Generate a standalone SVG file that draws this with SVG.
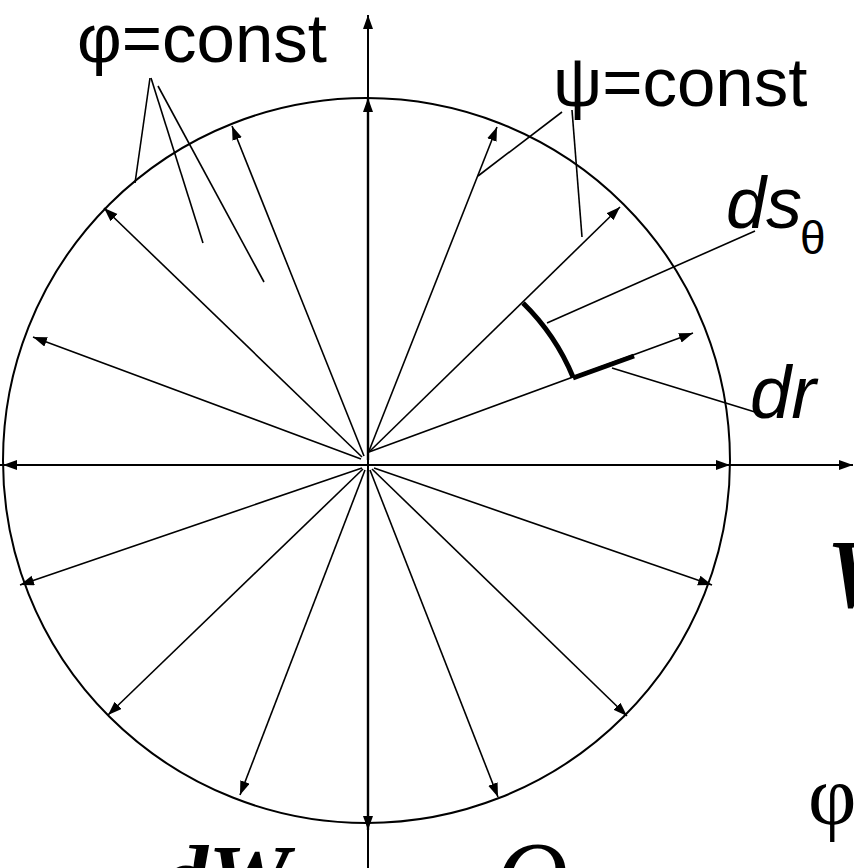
<svg xmlns="http://www.w3.org/2000/svg" width="854" height="868" viewBox="0 0 854 868">
<style>
.ln{stroke:#000;stroke-width:1.6;fill:none}
.ax{stroke:#000;stroke-width:2;fill:none}
.ar{stroke:#000;stroke-width:1.6;fill:none;marker-end:url(#ah)}
.thk{stroke:#000;stroke-width:5;fill:none}
.sans{font-family:"Liberation Sans",Arial,sans-serif;fill:#000}
.serif{font-family:"Liberation Serif","Times New Roman",serif;fill:#000}
</style>
<defs>
<marker id="ah" markerUnits="userSpaceOnUse" markerWidth="16" markerHeight="11" refX="14" refY="5" orient="auto">
<path d="M0,0 L14,5 L0,10 z" fill="#000"/>
</marker>
</defs>
<rect width="854" height="868" fill="#fff"/>
<g id="circle"><ellipse cx="366.5" cy="460.5" rx="363.5" ry="362.5" class="ax"/></g>
<g id="axes">
<line x1="368" y1="868" x2="368" y2="15" class="ax" marker-end="url(#ah)"/>
<line x1="0" y1="465" x2="853" y2="465" class="ax" marker-end="url(#ah)"/>
</g>
<g id="connectors">
<line x1="368" y1="460" x2="368" y2="98" class="ar" style="stroke-width:2.4"/>
<line x1="364" y1="456" x2="232" y2="126" class="ar"/>
<line x1="362" y1="457" x2="104" y2="208" class="ar"/>
<line x1="361" y1="459" x2="33" y2="337" class="ar"/>
<line x1="362" y1="465" x2="3" y2="465" class="ar"/>
<line x1="362" y1="468" x2="20" y2="585" class="ar"/>
<line x1="363" y1="469" x2="108" y2="715" class="ar"/>
<line x1="365" y1="470" x2="240" y2="795" class="ar"/>
<line x1="368" y1="470" x2="368" y2="830" class="ar" style="stroke-width:2.4"/>
<line x1="370" y1="470" x2="498" y2="797" class="ar"/>
<line x1="372" y1="469" x2="627" y2="716" class="ar"/>
<line x1="374" y1="468" x2="712" y2="585" class="ar"/>
<line x1="374" y1="465" x2="730" y2="465" class="ar"/>
<line x1="369" y1="452" x2="693" y2="333" class="ar"/>
<line x1="369" y1="452" x2="620" y2="207" class="ar"/>
<line x1="369" y1="451" x2="497" y2="127" class="ar"/>
<line x1="150" y1="78" x2="135" y2="183" class="ln"/>
<line x1="151" y1="78" x2="203" y2="243" class="ln"/>
<line x1="158" y1="86" x2="264" y2="282" class="ln"/>
<line x1="562" y1="112" x2="478" y2="176" class="ln"/>
<line x1="572" y1="110" x2="582" y2="237" class="ln"/>
<line x1="547" y1="323" x2="755" y2="231" class="ln"/>
<line x1="612" y1="368" x2="755" y2="412" class="ln"/>
</g>
<g id="element">
<path d="M523,303 A222,222 0 0 1 573,377" class="thk"/>
<line x1="573" y1="378" x2="634" y2="356" class="thk"/>
</g>
<g id="labels">
<text x="77" y="62" class="sans" font-size="69">φ=const</text>
<text x="553" y="106" class="sans" font-size="69">ψ=const</text>
<text x="726" y="228" class="sans" font-size="72" font-style="italic">ds</text>
<text x="800" y="254" class="sans" font-size="46">θ</text>
<text x="750" y="418" class="sans" font-size="74" font-style="italic">dr</text>
<text x="826" y="607" class="serif" font-size="98" font-style="italic" font-weight="bold">W</text>
<text x="808" y="824" class="serif" font-size="84">φ</text>
<text x="162" y="908" class="serif" font-size="92" font-style="italic" font-weight="bold">dW</text>
<text x="495" y="910" class="serif" font-size="100" font-style="italic">Q</text>
</g>
</svg>
